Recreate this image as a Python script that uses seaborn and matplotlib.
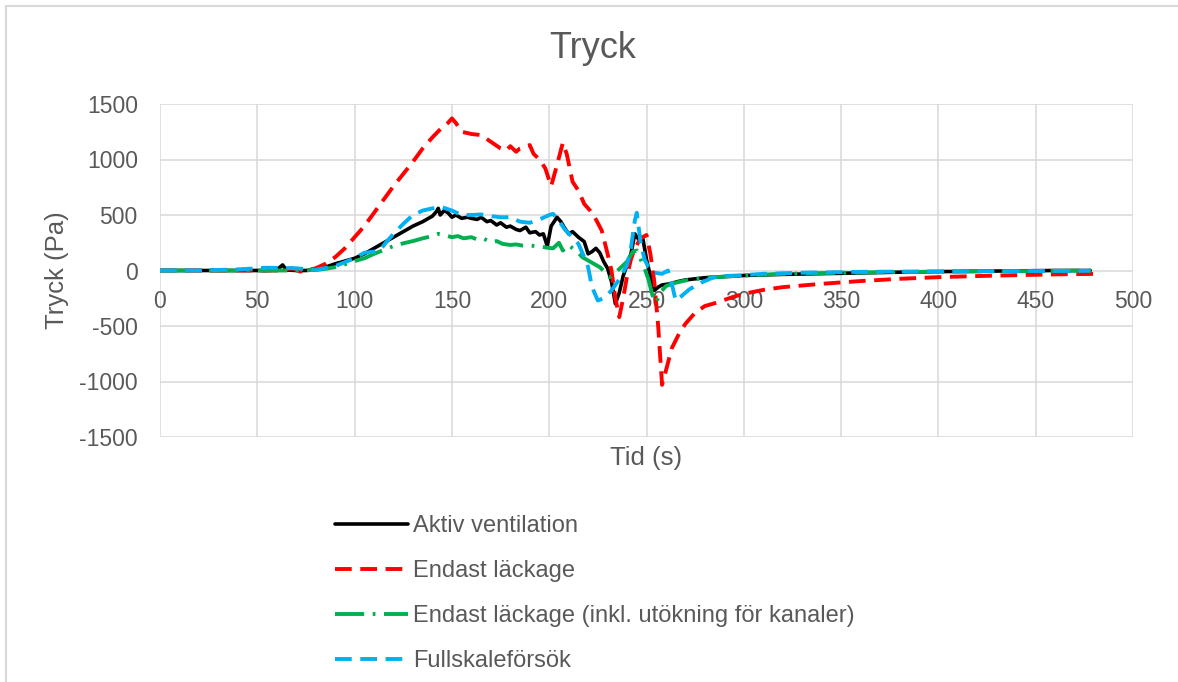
import matplotlib
matplotlib.use("Agg")
import matplotlib.pyplot as plt
import seaborn as sns
import pandas as pd
from matplotlib.patches import Rectangle

# ---------------- data ----------------
t_aktiv = [0, 20, 40, 55, 60, 63, 65, 70, 75, 80, 85, 90, 95, 100, 105, 110, 115, 120, 125, 130,
           135, 138, 140, 142, 143, 144, 146, 148, 150, 152, 155, 158, 160, 163, 165, 168, 170, 173,
           175, 178, 180, 183, 185, 188, 190, 193, 195, 197, 199, 201, 204, 206, 208, 210, 212, 215,
           218, 220, 222, 224, 226, 228, 230, 232, 234, 236, 238, 240, 242, 244, 246, 248, 250, 252,
           254, 256, 258, 262, 266, 270, 275, 280, 290, 300, 320, 350, 380, 400, 430, 460, 478]
p_aktiv = [0, 0, 0, 0, 5, 50, 5, 0, 0, 10, 30, 60, 85, 110, 150, 200, 250, 300, 350, 400,
           440, 470, 490, 530, 560, 500, 540, 520, 480, 500, 470, 480, 470, 460, 480, 440, 450, 410,
           430, 390, 400, 370, 360, 390, 340, 350, 320, 330, 220, 400, 480, 440, 380, 330, 350, 300,
           260, 150, 170, 200, 160, 80, 20, -100, -300, -200, -50, 50, 150, 330, 280, 300, 100, -50,
           -180, -150, -130, -120, -100, -85, -75, -65, -55, -45, -35, -25, -15, -10, -5, 0, 0]

t_lack = [0, 30, 50, 60, 68, 72, 75, 80, 85, 90, 95, 100, 105, 110, 115, 120, 125, 130, 135, 140,
          145, 148, 150, 152, 155, 160, 165, 170, 175, 178, 180, 183, 185, 190, 192, 195, 198, 201,
          204, 207, 209, 212, 215, 218, 221, 224, 227, 230, 232, 234, 236, 238, 240, 242, 244, 247,
          250, 252, 254, 256, 258, 260, 263, 267, 270, 275, 280, 285, 295, 300, 310, 320, 340, 360,
          380, 400, 420, 440, 460, 483]
p_lack = [0, 0, 0, 0, 20, -10, 0, 20, 60, 120, 200, 300, 400, 520, 640, 760, 870, 980, 1100, 1200,
          1290, 1330, 1370, 1330, 1250, 1230, 1220, 1160, 1100, 1080, 1120, 1070, 1100, 1130, 1050, 1000, 920, 760,
          950, 1150, 1050, 800, 720, 600, 540, 460, 360, 150, 0, -250, -420, -250, -50, 100, 200, 290,
          320, 150, -100, -500, -1030, -900, -700, -560, -480, -380, -320, -295, -235, -210, -175, -150, -120, -95,
          -75, -60, -50, -42, -35, -30]

t_kanal = [0, 50, 70, 80, 85, 90, 95, 100, 105, 110, 115, 120, 125, 130, 135, 140, 143, 146, 150, 153,
           156, 160, 163, 166, 170, 173, 176, 180, 183, 186, 190, 193, 196, 199, 202, 205, 207, 210, 212,
           215, 217, 220, 223, 226, 229, 231, 234, 237, 240, 243, 245, 247, 249, 251, 253, 255, 257, 260,
           265, 270, 280, 290, 300, 320, 350, 400, 450, 480]
p_kanal = [0, 0, 0, 5, 15, 30, 55, 85, 110, 150, 185, 220, 245, 265, 290, 310, 330, 320, 300, 310,
           290, 300, 280, 290, 255, 265, 240, 230, 235, 225, 225, 220, 215, 205, 200, 250, 180, 230, 200,
           160, 120, 90, 60, 30, -20, -60, -20, 30, 80, 170, 180, 100, 20, -80, -220, -290, -200, -140,
           -110, -90, -65, -55, -45, -30, -20, -10, -5, 0]

t_full = [0, 20, 40, 55, 70, 80, 90, 100, 105, 110, 113, 116, 120, 125, 130, 135, 140, 145, 150, 155,
          160, 165, 170, 175, 180, 185, 190, 195, 200, 202, 205, 208, 212, 215, 218, 220, 222, 225, 228,
          232, 236, 240, 242, 244, 245, 247, 249, 251, 254, 258, 261, 263, 265, 268, 272, 278, 284, 290,
          297, 310, 330, 360, 400, 450, 478]
p_full = [0, 0, 10, 25, 20, 5, 40, 110, 160, 170, 180, 250, 330, 420, 500, 540, 560, 570, 540, 500,
          500, 505, 490, 480, 480, 440, 430, 460, 500, 510, 450, 370, 300, 240, 120, 30, -150, -270, -250,
          -180, -80, 50, 200, 450, 520, 250, 100, 30, -20, -30, 0, -120, -270, -230, -170, -110, -65, -50,
          -45, -30, -20, -12, -8, -5, -3]

series_names = ["Aktiv ventilation", "Endast läckage",
                "Endast läckage (inkl. utökning för kanaler)", "Fullskaleförsök"]
x_ticks = [0, 50, 100, 150, 200, 250, 300, 350, 400, 450, 500]
y_ticks = [-1500, -1000, -500, 0, 500, 1000, 1500]

# ---------------- styling ----------------
TXT = "#595959"
GRID = "#D9D9D9"
sns.set_theme(style="white")
plt.rcParams["font.family"] = ["Liberation Sans", "DejaVu Sans"]

fig = plt.figure(figsize=(11.78, 6.82), dpi=100)
ax = fig.add_axes([160 / 1178, 1 - 437 / 682, (1133 - 160) / 1178, (437 - 104) / 682])

styles = [
    dict(color="#000000", linewidth=2.6, linestyle="-"),
    dict(color="#FF0000", linewidth=2.8, linestyle=(0, (4.3, 2.2))),
    dict(color="#00B050", linewidth=2.8, linestyle=(0, (7.5, 2.2, 0.7, 2.2))),
    dict(color="#00B0F0", linewidth=2.8, linestyle=(0, (4.3, 2.2))),
]
data_sets = [(t_aktiv, p_aktiv), (t_lack, p_lack), (t_kanal, p_kanal), (t_full, p_full)]

for name, (tt, pp), st in zip(series_names, data_sets, styles):
    df = pd.DataFrame({"Tid": tt, "Tryck": pp})
    sns.lineplot(data=df, x="Tid", y="Tryck", ax=ax, sort=False, estimator=None,
                 label=name, legend=False, **st)

if ax.get_legend() is not None:
    ax.get_legend().remove()

ax.set_xlim(0, 500)
ax.set_ylim(-1500, 1500)
ax.set_xticks(x_ticks)
ax.set_yticks(y_ticks)
ax.set_xticklabels([str(v) for v in x_ticks])
ax.set_yticklabels([str(v) for v in y_ticks])
ax.grid(True, color=GRID, linewidth=1.1)
ax.set_axisbelow(True)
for s in ax.spines.values():
    s.set_visible(False)
ax.spines["bottom"].set_position(("data", 0))
ax.tick_params(axis="both", length=0, labelsize=16.5, labelcolor=TXT)
ax.tick_params(axis="x", pad=14)
ax.tick_params(axis="y", pad=16)

ax.set_xlabel("Tid (s)", fontsize=18.5, color=TXT)
ax.xaxis.set_label_coords(0.5, -0.028)
ax.set_ylabel("Tryck (Pa)", fontsize=18.5, color=TXT)
ax.yaxis.set_label_coords(-0.094, 0.5)

fig.text(593 / 1178, 1 - 49 / 682, "Tryck", ha="center", va="center", fontsize=26, color=TXT)

handles, labels = ax.get_legend_handles_labels()
leg = fig.legend(handles, labels, loc="upper left", bbox_to_anchor=(335 / 1178, 1 - 515 / 682),
                 frameon=False, fontsize=17, handlelength=3.1, handletextpad=0.2,
                 labelspacing=0.98, borderpad=0, borderaxespad=0)
for txt in leg.get_texts():
    txt.set_color(TXT)

# chart-area border (top and left visible in the reference)
fig.add_artist(Rectangle((6 / 1178, -0.2), 1.2, 1.2 - 6 / 682, transform=fig.transFigure,
                         fill=False, edgecolor=GRID, linewidth=1.5, clip_on=False))

fig.savefig("out.png", dpi=100, facecolor="white")
